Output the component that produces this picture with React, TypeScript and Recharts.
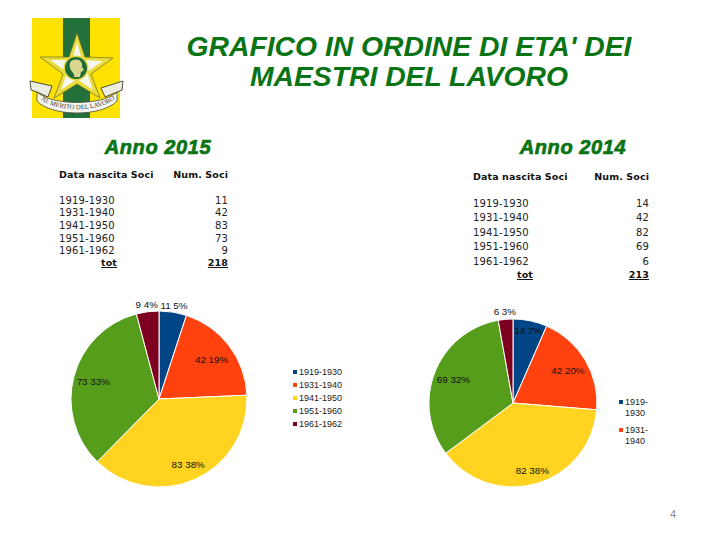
import { PieChart, Pie, Cell, Legend } from 'recharts';

const COLORS = ['#004586', '#ff420e', '#ffd320', '#579d1c', '#7e0021'];

const categories = ['1919-1930', '1931-1940', '1941-1950', '1951-1960', '1961-1962'];
const soci2015 = [11, 42, 83, 73, 9];
const soci2014 = [14, 42, 82, 69, 6];
const total2015 = 218;
const total2014 = 213;

// distance of each slice's label from the pie centre
const labelRadius2015 = [95, 66, 72, 68, 95];
const labelRadius2014 = [74, 64, 70, 64, 92];

const GREEN = '#0a7414';
const TABLE_FONT = '"DejaVu Sans", Verdana, sans-serif';
const CHART_FONT = '"Liberation Sans", Arial, sans-serif';

const abs = (left: number, top: number): React.CSSProperties => ({ position: 'absolute', left, top, whiteSpace: 'nowrap' });

function Heading({ text, x, y }: { text: string; x: number; y: number }) {
  return (
    <div
      style={{
        ...abs(x - 100, y - 12),
        width: 200,
        textAlign: 'center',
        fontFamily: CHART_FONT,
        fontStyle: 'italic',
        fontWeight: 700,
        fontSize: 20,
        lineHeight: '24px',
        letterSpacing: 0.6,
        color: GREEN,
        WebkitTextStroke: `0.7px ${GREEN}`,
      }}
    >
      {text}
    </div>
  );
}

function SociTable({ values, total, x, right, totRight, headY, rowYs, totY }: any) {
  const cell: React.CSSProperties = { fontFamily: TABLE_FONT, fontSize: 10, lineHeight: '14px', color: '#222', letterSpacing: 0.15 };
  const head: React.CSSProperties = { ...cell, fontWeight: 700, fontSize: 9.5, letterSpacing: 0.1, color: '#111' };
  return (
    <>
      <div style={{ ...abs(x, headY - 7), ...head }}>Data nascita Soci</div>
      <div style={{ ...abs(right - 100, headY - 7), ...head, width: 100, textAlign: 'right' }}>Num. Soci</div>
      {categories.map((c, i) => (
        <div key={c}>
          <div style={{ ...abs(x, rowYs[i] - 7), ...cell }}>{c}</div>
          <div style={{ ...abs(right - 60, rowYs[i] - 7), ...cell, width: 60, textAlign: 'right' }}>{values[i]}</div>
        </div>
      ))}
      <div style={{ ...abs(totRight - 60, totY - 7), ...head, width: 60, textAlign: 'right', textDecoration: 'underline' }}>tot</div>
      <div style={{ ...abs(right - 60, totY - 7), ...head, width: 60, textAlign: 'right', textDecoration: 'underline' }}>{total}</div>
    </>
  );
}

function sliceLabel(radii: number[], total: number) {
  return (props: any) => {
    const { cx, cy, midAngle, index, value } = props;
    const a = (midAngle * Math.PI) / 180;
    const r = radii[index];
    return (
      <text
        x={cx + r * Math.cos(a)}
        y={cy - r * Math.sin(a)}
        textAnchor="middle"
        dominantBaseline="central"
        fontFamily={CHART_FONT}
        fontSize={9.8}
        fill="#111"
      >
        {`${value} ${Math.round((value / total) * 100)}%`}
      </text>
    );
  };
}

function PieBlock({ values, total, radii, left, top, width, height, cx, cy, radius, legend }: any) {
  const data = categories.map((name, i) => ({ name, value: values[i] }));
  return (
    <div style={{ position: 'absolute', left, top }}>
      <PieChart width={width} height={height} margin={{ top: 0, right: 0, bottom: 0, left: 0 }}>
        <Pie
          data={data}
          dataKey="value"
          nameKey="name"
          cx={cx}
          cy={cy}
          outerRadius={radius}
          startAngle={90}
          endAngle={-270}
          stroke="#ffffff"
          strokeWidth={1}
          label={sliceLabel(radii, total)}
          labelLine={false}
          isAnimationActive={false}
        >
          {data.map((d, i) => (
            <Cell key={d.name} fill={COLORS[i]} />
          ))}
        </Pie>
        <Legend layout="vertical" content={() => legend} wrapperStyle={{ position: 'absolute', left: 0, top: 0, width, height, pointerEvents: 'none' }} />
      </PieChart>
    </div>
  );
}

function LegendRow({ x, y, idx, lines, step }: any) {
  return (
    <>
      <div style={{ ...abs(x, y - 2), width: 4, height: 4, background: COLORS[idx] }} />
      {lines.map((t: string, j: number) => (
        <div key={t} style={{ ...abs(x + 6, y - 6 + j * step), fontFamily: CHART_FONT, fontSize: 9, lineHeight: '12px', color: '#222' }}>
          {t}
        </div>
      ))}
    </>
  );
}

function Logo() {
  return (
    <svg style={{ position: 'absolute', left: 25, top: 12 }} width={105} height={112} viewBox="25 12 105 112">
      <rect x={32} y={18} width={88} height={100} fill="#fde200" />
      <rect x={63} y={18} width={27} height={100} fill="#23703a" />
      <polygon points="77,33 85,57 113,58 91,74 100,98 77,84 54,98 63,74 40,57 69,57" fill="#e9dc3c" stroke="#6d6a1a" strokeWidth={0.7} />
      <polygon points="77,42 82,60 103,61 87,72 93,90 77,79 61,90 67,72 50,60 72,60" fill="#f6f6ee" />
      <circle cx={76} cy={68} r={12.5} fill="#e5d93a" />
      <circle cx={76} cy={68} r={11} fill="#1f6b35" />
      <path d="M73 60 C79 58 83 62 82 67 L84 70 L81 72 L80 77 L74 77 C75 73 71 72 70 68 C69 64 70 61 73 60 Z" fill="#d8d690" />
      <path d="M37 92 C52 106 102 106 117 92 L117 101 C102 117 52 117 37 101 Z" fill="#f6f6ee" stroke="#4a4a40" strokeWidth={0.8} />
      <polygon points="30,81 52,86 48,97 37,92 31,90" fill="#ececdf" stroke="#3d3d36" strokeWidth={0.9} />
      <polygon points="123,81 101,88 105,97 117,92 122,90" fill="#ececdf" stroke="#3d3d36" strokeWidth={0.9} />
      <path id="ribbonPath" d="M39 98 C54 113 100 113 116 98" fill="none" />
      <text fontFamily='"Liberation Serif", serif' fontSize={6.6} fill="#333">
        <textPath href="#ribbonPath" startOffset="3%">AL MERITO DEL LAVORO</textPath>
      </text>
    </svg>
  );
}

export default function App() {
  return (
    <div style={{ position: 'absolute', left: 0, top: 0, width: 720, height: 540, background: '#fff', overflow: 'hidden' }}>
      <Logo />
      <div
        style={{
          ...abs(109, 31),
          width: 600,
          textAlign: 'center',
          fontFamily: CHART_FONT,
          fontStyle: 'italic',
          fontWeight: 700,
          fontSize: 28.3,
          lineHeight: '30px',
          color: GREEN,
        }}
      >
        GRAFICO IN ORDINE DI ETA' DEI
        <br />
        MAESTRI DEL LAVORO
      </div>

      <Heading text="Anno 2015" x={158} y={147} />
      <Heading text="Anno 2014" x={573} y={147} />

      <SociTable values={soci2015} total={total2015} x={59} right={228} totRight={117} headY={174.5} rowYs={[200.5, 212.5, 225.5, 238.5, 251]} totY={262.5} />
      <SociTable values={soci2014} total={total2014} x={473} right={649} totRight={533} headY={176.5} rowYs={[204, 218, 233, 247, 262]} totY={275} />

      <PieBlock
        values={soci2015}
        total={total2015}
        radii={labelRadius2015}
        left={40}
        top={290}
        width={340}
        height={210}
        cx={119}
        cy={109}
        radius={88}
        legend={
          <>
            {categories.map((c, i) => (
              <LegendRow key={c} x={253} y={81.5 + i * 13} idx={i} lines={[c]} step={12} />
            ))}
          </>
        }
      />
      <PieBlock
        values={soci2014}
        total={total2014}
        radii={labelRadius2014}
        left={410}
        top={300}
        width={310}
        height={200}
        cx={103}
        cy={103}
        radius={84}
        legend={
          <>
            <LegendRow x={209} y={102} idx={0} lines={['1919-', '1930']} step={11} />
            <LegendRow x={209} y={130} idx={1} lines={['1931-', '1940']} step={11} />
          </>
        }
      />

      <div style={{ ...abs(670, 507), fontFamily: CHART_FONT, fontSize: 11, lineHeight: '14px', color: '#8a8a8a' }}>4</div>
    </div>
  );
}
